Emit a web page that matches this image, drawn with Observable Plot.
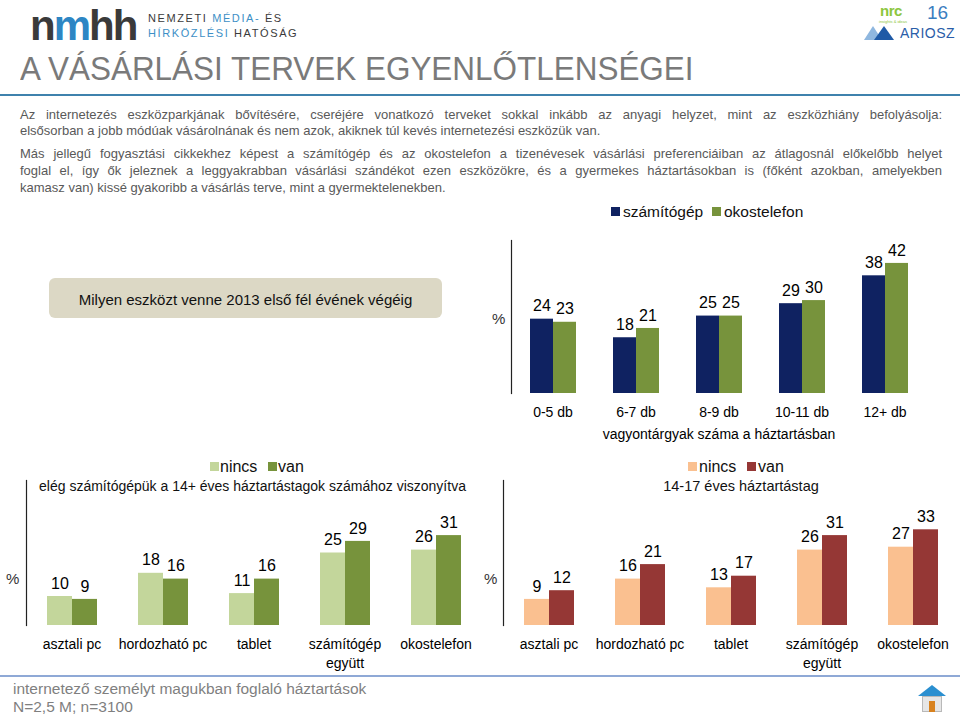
<!DOCTYPE html>
<html>
<head>
<meta charset="utf-8">
<script src="https://cdn.jsdelivr.net/npm/d3@7"></script>
<script src="https://cdn.jsdelivr.net/npm/@observablehq/plot@0.6"></script>
<style>
  html, body { margin: 0; padding: 0; background: #fff; }
  body { width: 960px; height: 715px; position: relative; overflow: hidden;
         font-family: "Liberation Sans", Arial, sans-serif; color: #000; }
  .abs { position: absolute; line-height: 1; white-space: nowrap; }
  .para { position: absolute; left: 20px; width: 922px; font-size: 13px; line-height: 1;
          color: #595959; white-space: nowrap; }
  .just { text-align: justify; text-align-last: justify; white-space: normal; }
  .sw { position: absolute; width: 9px; height: 9px; }
  .chart { position: absolute; }
</style>
</head>
<body>
<!-- header -->
<div class="abs" style="left:30px;top:3px;font-size:42px;line-height:1.1;font-weight:bold;letter-spacing:-2px;color:#3a3a3a;">n<span style="color:#2d86c4">m</span>hh</div>
<div class="abs" style="left:148px;top:13px;font-size:11px;letter-spacing:1.6px;color:#3a3a3a;">NEMZETI <span style="color:#3d8fc6">MÉDIA-</span> ÉS</div>
<div class="abs" style="left:148px;top:28px;font-size:11px;letter-spacing:1.6px;color:#3a3a3a;"><span style="color:#3d8fc6">HÍRKÖZLÉSI</span> HATÓSÁG</div>

<div class="abs" style="left:880px;top:3px;font-size:15px;font-weight:bold;color:#8cc63e;letter-spacing:-0.5px;">nrc</div>
<div class="abs" style="left:879px;top:20px;font-size:4px;color:#8cc63e;">insights &amp; ideas</div>
<div class="abs" style="left:927px;top:3px;font-size:19px;color:#3b7ec0;">16</div>
<div class="abs" style="left:864px;top:26px;width:0;height:0;border-left:9px solid transparent;border-right:9px solid transparent;border-bottom:14px solid #8fb7df;"></div>
<div class="abs" style="left:874px;top:26px;width:0;height:0;border-left:10px solid transparent;border-right:10px solid transparent;border-bottom:14px solid #1f5aa6;"></div>
<div class="abs" style="left:900px;top:26px;font-size:14px;color:#2a5da8;letter-spacing:0.5px;">ARIOSZ</div>

<div class="abs" style="left:20px;top:51px;font-size:34px;color:#7a7a7a;transform:scaleX(0.925);transform-origin:0 0;">A VÁSÁRLÁSI TERVEK EGYENLŐTLENSÉGEI</div>
<div class="abs" style="left:0;top:94px;width:960px;height:2px;background:#3f82ad;"></div>

<div class="para just" style="top:108px;">Az internetezés eszközparkjának bővítésére, cseréjére vonatkozó terveket sokkal inkább az anyagi helyzet, mint az eszközhiány befolyásolja:</div>
<div class="para" style="top:124px;">elsősorban a jobb módúak vásárolnának és nem azok, akiknek túl kevés internetezési eszközük van.</div>
<div class="para just" style="top:147px;">Más jellegű fogyasztási cikkekhez képest a számítógép és az okostelefon a tizenévesek vásárlási preferenciáiban az átlagosnál előkelőbb helyet</div>
<div class="para just" style="top:164px;">foglal el, így ők jeleznek a leggyakrabban vásárlási szándékot ezen eszközökre, és a gyermekes háztartásokban is (főként azokban, amelyekben</div>
<div class="para" style="top:181px;">kamasz van) kissé gyakoribb a vásárlás terve, mint a gyermektelenekben.</div>

<!-- question box -->
<div class="abs" style="left:49px;top:278px;width:393px;height:40px;background:#dcd8c5;border-radius:6px;"></div>
<div class="abs" style="left:49px;top:292px;width:393px;text-align:center;font-size:15px;color:#111;">Milyen eszközt venne 2013 első fél évének végéig</div>

<!-- legends and labels -->
<div id="legendTop"></div>
<div id="legendBL"></div>
<div id="legendBR"></div>

<div class="abs" style="left:492px;top:311px;font-size:15px;color:#333;">%</div>
<div class="abs" style="left:6px;top:571px;font-size:15px;color:#333;">%</div>
<div class="abs" style="left:484px;top:571px;font-size:15px;color:#333;">%</div>

<div class="abs" style="left:0;top:479px;width:505px;text-align:center;font-size:14px;color:#111;">elég számítógépük a 14+ éves háztartástagok számához viszonyítva</div>
<div class="abs" style="left:600px;top:479px;width:282px;text-align:center;font-size:14.5px;color:#111;">14-17 éves háztartástag</div>

<div id="chartTop" class="chart" style="left:480px;top:225px;"></div>
<div id="chartBL" class="chart" style="left:0px;top:470px;"></div>
<div id="chartBR" class="chart" style="left:480px;top:470px;"></div>

<!-- footer -->
<div class="abs" style="left:0;top:675px;width:960px;height:1.5px;background:#8fa9d6;"></div>
<div class="abs" style="left:13px;top:681px;font-size:15.5px;color:#7f7f7f;">internetező személyt magukban foglaló háztartások</div>
<div class="abs" style="left:13px;top:699px;font-size:15.5px;color:#7f7f7f;">N=2,5 M; n=3100</div>
<div class="abs" style="left:918px;top:685px;width:0;height:0;border-left:14px solid transparent;border-right:14px solid transparent;border-bottom:11px solid #2a8fd0;"></div>
<div class="abs" style="left:922px;top:696px;width:20px;height:16px;background:#e6e6e6;border:1px solid #b9b9b9;box-sizing:border-box;"></div>
<div class="abs" style="left:929px;top:701px;width:6px;height:11px;background:#d8821f;"></div>

<script>
// ---------- data ----------
const topGroups = ["0-5 db", "6-7 db", "8-9 db", "10-11 db", "12+ db"];
const topSeries = ["számítógép", "okostelefon"];
const topComputer = [24, 18, 25, 29, 38];
const topPhone = [23, 21, 25, 30, 42];
const topAxisTitle = "vagyontárgyak száma a háztartásban";

const devices = ["asztali pc", "hordozható pc", "tablet", "számítógép\negyütt", "okostelefon"];
const haveSeries = ["nincs", "van"];
const enoughNincs = [10, 18, 11, 25, 26];
const enoughVan = [9, 16, 16, 29, 31];
const teenNincs = [9, 16, 13, 26, 27];
const teenVan = [12, 21, 17, 31, 33];

const topColors = ["#0f2261", "#77933c"];
const enoughColors = ["#c3d69b", "#77933c"];
const teenColors = ["#fac090", "#953735"];

const FONT = "'Liberation Sans', Arial, sans-serif";

function legend(id, items, colors, left, top, fs, gapTxt) {
  const el = document.getElementById(id);
  items.forEach((name, i) => {
    const sw = document.createElement("div");
    sw.className = "sw";
    sw.style.left = left[i] + "px";
    sw.style.top = top + "px";
    sw.style.background = colors[i];
    el.appendChild(sw);
    const t = document.createElement("div");
    t.className = "abs";
    t.style.left = (left[i] + gapTxt) + "px";
    t.style.top = (top + 4.5 - fs / 2) + "px";
    t.style.fontSize = fs + "px";
    t.style.color = "#111";
    t.textContent = name;
    el.appendChild(t);
  });
}

function grouped({groups, series, values, colors, width, height, margins, yMax, xPadOuter, fxLabel, labelOffset, tickPadding}) {
  const data = [];
  groups.forEach((g, i) => series.forEach((s, j) => data.push({group: g, series: s, value: values[j][i]})));
  const [mt, mr, mb, ml] = margins;
  return Plot.plot({
    width, height,
    marginTop: mt, marginRight: mr, marginBottom: mb, marginLeft: ml,
    style: {fontFamily: FONT, fontSize: "14px", color: "#000", background: "transparent", overflow: "visible"},
    fx: {domain: groups, paddingInner: 0, paddingOuter: 0, axis: null},
    x: {domain: series, paddingInner: 0, paddingOuter: xPadOuter, axis: null},
    y: {domain: [0, yMax], axis: null},
    color: {domain: series, range: colors},
    marks: [
      Plot.frame({anchor: "left", facetAnchor: "left", stroke: "#222", strokeWidth: 1.2}),
      Plot.barY(data, {fx: "group", x: "series", y: "value", fill: "series"}),
      Plot.text(data, {fx: "group", x: "series", y: "value", text: d => String(d.value), dy: -13, fontSize: 16, fill: "#000"}),
      Plot.axisFx({anchor: "bottom", tickSize: 0, tickPadding, fontSize: 14, lineHeight: 1.3,
                   label: fxLabel, labelAnchor: "center", labelOffset})
    ]
  });
}

legend("legendTop", topSeries, topColors, [611, 712], 207, 15.5, 12);
legend("legendBL", haveSeries, enoughColors, [210, 268], 462, 16, 10);
legend("legendBR", haveSeries, teenColors, [688, 747], 462, 16, 11);

document.getElementById("chartTop").appendChild(grouped({
  groups: topGroups, series: topSeries, values: [topComputer, topPhone], colors: topColors,
  width: 480, height: 218, margins: [15, 34, 50, 31], yMax: 49.4, xPadOuter: 0.73,
  fxLabel: topAxisTitle, labelOffset: 45, tickPadding: 11
}));
document.getElementById("chartBL").appendChild(grouped({
  groups: devices, series: haveSeries, values: [enoughNincs, enoughVan], colors: enoughColors,
  width: 490, height: 200, margins: [10, 8, 45, 25], yMax: 50, xPadOuter: 0.755,
  fxLabel: null, labelOffset: 40, tickPadding: 11
}));
document.getElementById("chartBR").appendChild(grouped({
  groups: devices, series: haveSeries, values: [teenNincs, teenVan], colors: teenColors,
  width: 480, height: 200, margins: [10, 1, 45, 22], yMax: 50, xPadOuter: 0.755,
  fxLabel: null, labelOffset: 40, tickPadding: 11
}));
</script>
</body>
</html>
